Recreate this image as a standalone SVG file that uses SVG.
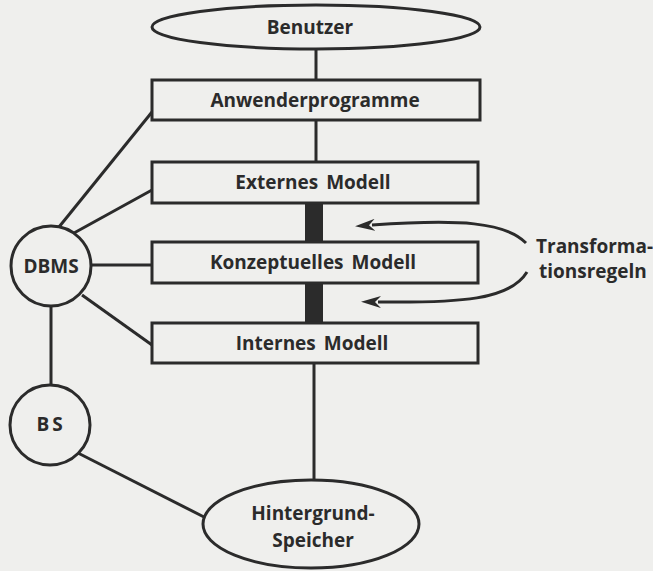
<svg xmlns="http://www.w3.org/2000/svg" width="653" height="571" viewBox="0 0 653 571">
  <style>
    .box { fill: #efefed; stroke: #2b2b2b; stroke-width: 3; }
    .line { stroke: #2b2b2b; stroke-width: 3; fill: none; }
    .label { font-family: "Open Sans", "Liberation Sans", sans-serif; font-weight: 700; font-size: 19px; fill: #2b2b2b; text-anchor: middle; }
    .side { text-anchor: start; }
  </style>
  <defs>
    <marker id="arrow" viewBox="0 0 20 12" refX="3" refY="6" markerWidth="20" markerHeight="12" markerUnits="userSpaceOnUse" orient="auto">
      <path d="M20,6 L0,0 L6,6 L0,12 Z" fill="#2b2b2b"/>
    </marker>
  </defs>
  <rect width="653" height="571" fill="#efefed"/>

  <!-- connectors -->
  <g id="connectors">
    <line class="line" x1="316" y1="48" x2="316" y2="80"/>
    <line class="line" x1="316" y1="120" x2="316" y2="162"/>
    <rect x="305" y="203" width="18" height="39" fill="#2b2b2b"/>
    <rect x="305" y="283" width="18" height="40" fill="#2b2b2b"/>
    <line class="line" x1="314" y1="363" x2="314" y2="481"/>
    <line class="line" x1="59" y1="227" x2="152" y2="112"/>
    <line class="line" x1="74" y1="233" x2="152" y2="190"/>
    <line class="line" x1="91" y1="265" x2="152" y2="265"/>
    <line class="line" x1="82" y1="295" x2="152" y2="345"/>
    <line class="line" x1="51" y1="305" x2="51" y2="385"/>
    <line class="line" x1="78" y1="453" x2="204" y2="517"/>
    <path class="line" d="M526,243 C505,222 460,219 372,225" marker-end="url(#arrow)"/>
    <path class="line" d="M527,272 C510,300 460,303 378,302" marker-end="url(#arrow)"/>
  </g>

  <g id="benutzer">
    <ellipse class="box" cx="316" cy="27" rx="164" ry="22"/>
    <text class="label" x="310" y="34">Benutzer</text>
  </g>
  <g id="anwenderprogramme">
    <rect class="box" x="152" y="80" width="328" height="40"/>
    <text class="label" x="315" y="107">Anwenderprogramme</text>
  </g>
  <g id="externes-modell">
    <rect class="box" x="152" y="162" width="326" height="41"/>
    <text class="label" x="313" y="189" word-spacing="3">Externes Modell</text>
  </g>
  <g id="konzeptuelles-modell">
    <rect class="box" x="152" y="242" width="326" height="41"/>
    <text class="label" x="313" y="269" word-spacing="3">Konzeptuelles Modell</text>
  </g>
  <g id="internes-modell">
    <rect class="box" x="152" y="323" width="326" height="40"/>
    <text class="label" x="312" y="350" word-spacing="3">Internes Modell</text>
  </g>
  <g id="dbms">
    <circle class="box" cx="51" cy="266" r="40"/>
    <text class="label" x="51" y="273">DBMS</text>
  </g>
  <g id="bs">
    <circle class="box" cx="50" cy="425" r="40"/>
    <text class="label" x="51" y="431" letter-spacing="3">BS</text>
  </g>
  <g id="hintergrundspeicher">
    <ellipse class="box" cx="311" cy="524" rx="108" ry="44"/>
    <text class="label" x="313" y="520">Hintergrund-</text>
    <text class="label" x="313" y="547">Speicher</text>
  </g>
  <g id="transformationsregeln">
    <text class="label side" x="536" y="253">Transforma-</text>
    <text class="label side" x="539" y="278">tionsregeln</text>
  </g>
</svg>
